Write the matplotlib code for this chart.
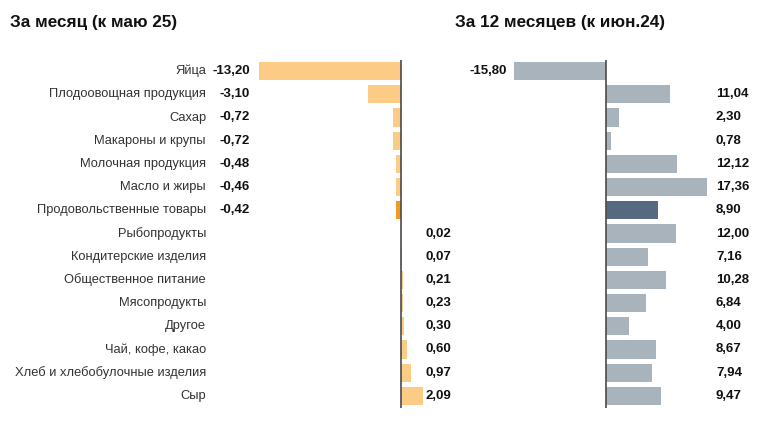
import matplotlib
matplotlib.use('Agg')
import matplotlib.pyplot as plt
import matplotlib.transforms as mtransforms

plt.rcParams['font.family'] = ['Liberation Sans', 'DejaVu Sans']

# данные
categories = ['Яйца', 'Плодоовощная продукция', 'Сахар', 'Макароны и крупы',
              'Молочная продукция', 'Масло и жиры', 'Продовольственные товары',
              'Рыбопродукты', 'Кондитерские изделия', 'Общественное питание',
              'Мясопродукты', 'Другое', 'Чай, кофе, какао',
              'Хлеб и хлебобулочные изделия', 'Сыр']
month_vals = [-13.20, -3.10, -0.72, -0.72, -0.48, -0.46, -0.42,
              0.02, 0.07, 0.21, 0.23, 0.30, 0.60, 0.97, 2.09]
year_vals = [-15.80, 11.04, 2.30, 0.78, 12.12, 17.36, 8.90,
             12.00, 7.16, 10.28, 6.84, 4.00, 8.67, 7.94, 9.47]
highlight = 'Продовольственные товары'

W, H = 760, 421
fig = plt.figure(figsize=(W/100, H/100), dpi=100)

def px_axes(x0, x1, y0, y1):
    # координаты в пикселях (y сверху)
    return fig.add_axes([x0/W, 1-y1/H, (x1-x0)/W, (y1-y0)/H])

n = len(categories)
ypos = list(range(n))

def panel(ax, vals, zero_px, scale, x0, x1, c_norm, c_hi, neg_x, pos_x):
    ax.set_xlim((x0-zero_px)/scale, (x1-zero_px)/scale)
    ax.set_ylim(n-0.5, -0.5)
    cols = [c_hi if c == highlight else c_norm for c in categories]
    ax.barh(ypos, vals, height=0.78, color=cols, zorder=2)
    ax.axvline(0, color='#4a4a4a', lw=1.2, zorder=3)
    ax.axis('off')
    tr = mtransforms.blended_transform_factory(fig.transFigure, ax.transData)
    for y, v in zip(ypos, vals):
        s = ('%.2f' % v).replace('.', ',')
        if v < 0:
            ax.text(neg_x/W, y, s, transform=tr, ha='right', va='center',
                    fontsize=9.5, fontweight='bold', color='#111111')
        else:
            ax.text(pos_x/W, y, s, transform=tr, ha='left', va='center',
                    fontsize=9.5, fontweight='bold', color='#111111')
    return tr

ax1 = px_axes(215, 440, 59.5, 407.5)
tr1 = panel(ax1, month_vals, 401, 10.76, 215, 440, '#FCCB85', '#F29A1E', 250, 425)
for y, c in zip(ypos, categories):
    ax1.text(206/W, y, c, transform=tr1, ha='right', va='center',
             fontsize=9.3, color='#333333')

ax2 = px_axes(500, 725, 59.5, 407.5)
panel(ax2, year_vals, 606, 5.82, 500, 725, '#A9B3BC', '#566A7F', 507, 716)

fig.text(10/W, 1-23/H, 'За месяц (к маю 25)', ha='left', va='center',
         fontsize=12.3, fontweight='bold', color='#111111')
fig.text(455/W, 1-23/H, 'За 12 месяцев (к июн.24)', ha='left', va='center',
         fontsize=12.3, fontweight='bold', color='#111111')

fig.savefig('out.png', dpi=100)
plt.close()
